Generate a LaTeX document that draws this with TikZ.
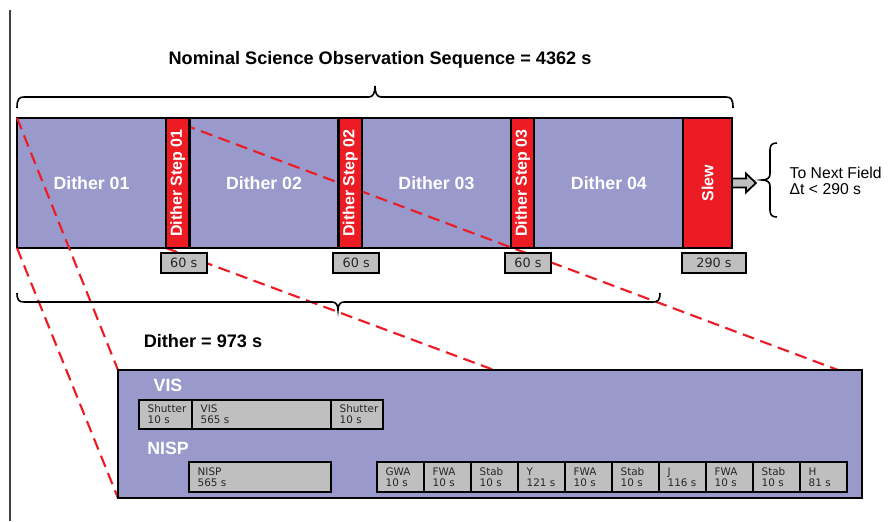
\documentclass[tikz,border=0pt]{standalone}
\usepackage{fontspec}
\setmainfont{Liberation Sans}
\newfontfamily\boxfont{DejaVu Sans}
\usetikzlibrary{positioning}
\definecolor{ditherblue}{HTML}{9999CC}
\definecolor{slewred}{HTML}{ED1C24}
\definecolor{boxgray}{HTML}{BFBFBF}
\pgfdeclarelayer{background}
\pgfdeclarelayer{zoomlines}
\pgfsetlayers{background,zoomlines,main}

\begin{document}
\begin{tikzpicture}[
  x=0.75pt,
  y=-0.75pt,
  dither/.style={draw, line width=1.6pt, fill=ditherblue, outer sep=0pt, minimum width=111.75pt, minimum height=97.5pt, text=white, font=\fontsize{13.3}{16}\selectfont\bfseries},
  stepbox/.style={draw, line width=1.6pt, fill=slewred, outer sep=0pt, minimum width=17.6pt, minimum height=97.5pt, inner sep=0pt, text=white, font=\fontsize{12}{14}\selectfont\bfseries},
  dur/.style={draw, line width=1.4pt, fill=boxgray, outer sep=0pt, minimum width=34.5pt, minimum height=15pt, inner sep=0pt, text=black!85, font=\boxfont\fontsize{9.6}{11}\selectfont},
  seg/.style={draw, line width=1.4pt, fill=boxgray, outer sep=0pt, inner xsep=6.5pt, inner ysep=0pt, minimum height=22pt, align=left, text=black!85, font=\boxfont\fontsize{7.8}{8.4}\selectfont},
  zoomline/.style={slewred, line width=1.6pt, dash pattern=on 9pt off 5pt},
  bracepen/.style={line width=1.2pt},
  heading/.style={font=\fontsize{13.6}{16}\selectfont\bfseries},
  rowlabel/.style={text=white, font=\fontsize{13.3}{16}\selectfont\bfseries},
]
\useasboundingbox (0,0) rectangle (888,521);

% page rule on the left
\draw[black!75, line width=0.8pt] (10,10) -- (10,521);

% Headings
\node[heading] (seqtitle) at (380,60) {Nominal Science Observation Sequence = 4362 s};
\node[heading] (dithtitle) at (203,341) {Dither = 973 s};

% Dither blocks (kept below the zoom lines)
\begin{pgfonlayer}{background}
\node[dither, anchor=west] (d1) at (17,183) {Dither 01};
\node[dither, right=17.6pt of d1] (d2) {Dither 02};
\node[dither, right=17.6pt of d2] (d3) {Dither 03};
\node[dither, right=17.6pt of d3] (d4) {Dither 04};
\end{pgfonlayer}

% Dither steps and slew
\node[stepbox, right=0pt of d1] (s1) {\rotatebox{90}{Dither Step 01}};
\node[stepbox, right=0pt of d2] (s2) {\rotatebox{90}{Dither Step 02}};
\node[stepbox, right=0pt of d3] (s3) {\rotatebox{90}{Dither Step 03}};
\node[stepbox, minimum width=36.4pt, right=0pt of d4] (slew) {\rotatebox{90}{Slew}};

% Durations
\node[dur, below=3.75pt of s1, xshift=4.5pt] (t1) {60 s};
\node[dur, below=3.75pt of s2, xshift=4.5pt] (t2) {60 s};
\node[dur, below=3.75pt of s3, xshift=4pt] (t3) {60 s};
\node[dur, minimum width=48pt, below=3.75pt of slew, xshift=4.7pt] (t4) {290 s};

% Arrow to next field
\draw[line width=1.3pt, fill=boxgray] (slew.east) ++(0,-4.5) -- ++(14,0) -- ++(0,-5) -- ++(10,9.5) -- ++(-10,9.5) -- ++(0,-5) -- ++(-14,0) -- cycle;
\node[anchor=west, align=left, font=\fontsize{11.8}{12.5}\selectfont] (next) at (785,181) {To Next Field\\Δt < 290 s};

% Braces
\draw[bracepen] (17,108) .. controls (17,99) and (19,97) .. (24,97) -- (369,97)
  .. controls (373,97) and (375,93) .. (375,86) .. controls (375,93) and (377,97) .. (381,97)
  -- (726,97) .. controls (731,97) and (733,99) .. (733,108);
\draw[bracepen] (17,293) .. controls (17,300) and (19,302) .. (24,302) -- (332,302)
  .. controls (336,302) and (338,305) .. (338,310) .. controls (338,305) and (340,302) .. (344,302)
  -- (653,302) .. controls (658,302) and (660,300) .. (660,293);
\draw[bracepen] (777,143) .. controls (772,143) and (770,145) .. (770,150) -- (770,174)
  .. controls (770,178) and (767,180) .. (762,180) .. controls (767,180) and (770,182) .. (770,186)
  -- (770,210) .. controls (770,215) and (772,217) .. (777,217);

% Zoomed dither
\node[draw, line width=1.6pt, fill=ditherblue, outer sep=0pt, minimum width=558pt, minimum height=96pt, anchor=north west] (det) at (118,370) {};
\coordinate (zt) at ([xshift=-18pt]det.north east);
\coordinate (zb) at ([xshift=-18pt]det.south east);

\node[rowlabel] (vislab) at (168,385) {VIS};
\node[rowlabel] (nisplab) at (168,448) {NISP};

% VIS row
\node[seg, minimum height=21.75pt, text width=26.75pt, anchor=west] (sh1) at (139,414.5) {Shutter\\10 s};
\node[seg, minimum height=21.75pt, text width=91.25pt, right=0pt of sh1] (vis) {VIS\\565 s};
\node[seg, minimum height=21.75pt, text width=26pt, right=0pt of vis] (sh2) {Shutter\\10 s};

% NISP row
\node[seg, text width=93.5pt, anchor=west] (nisp) at (189,477) {NISP\\565 s};
\foreach \lab/\dur [count=\i] in {GWA/10,FWA/10,Stab/10,Y/121,FWA/10,Stab/10,J/116,FWA/10,Stab/10,H/81}
  \node[seg, text width=22.25pt, anchor=west] (n\i) at ({377+47*(\i-1)},477) {\lab\\\dur~s};

% Zoom lines
\begin{pgfonlayer}{zoomlines}
\draw[zoomline] (d1.north west) -- (det.north west);
\draw[zoomline] (d1.south west) -- (det.south west);
\draw[zoomline] (s1.north west) -- (zt);
\draw[zoomline] (s1.south west) -- (zb);
\end{pgfonlayer}

\end{tikzpicture}
\end{document}
